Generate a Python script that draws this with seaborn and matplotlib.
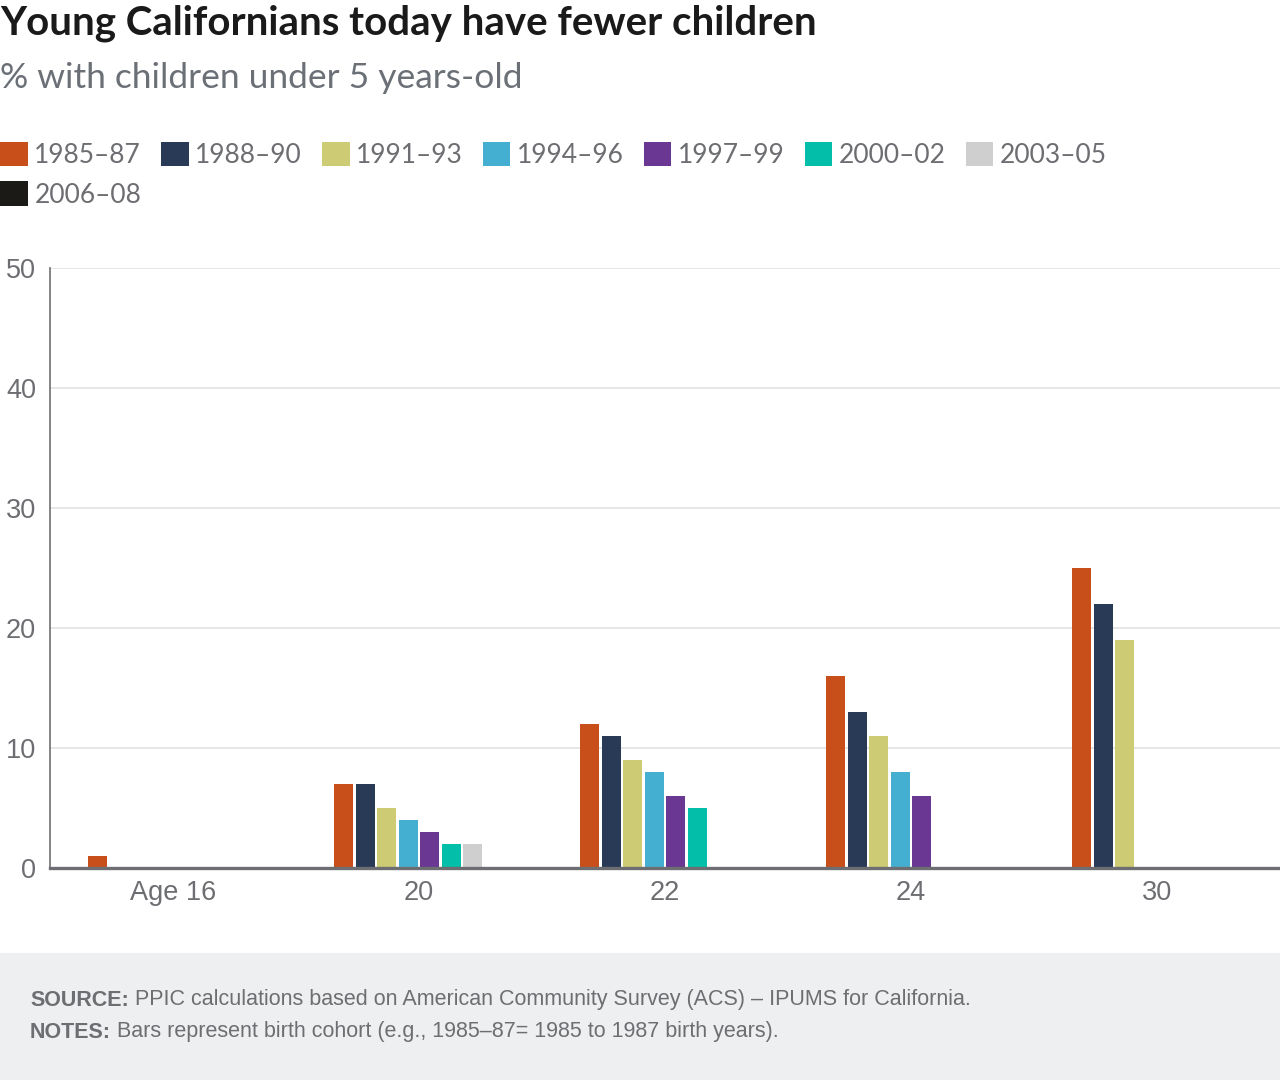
import matplotlib.pyplot as plt
import numpy as np
import pandas as pd
import seaborn as sns
from matplotlib.patches import Patch, Rectangle
from matplotlib.text import Annotation

ages = ["Age 16", "20", "22", "24", "30"]
cohorts = ["1985–87", "1988–90", "1991–93", "1994–96",
           "1997–99", "2000–02", "2003–05", "2006–08"]
nan = np.nan
pct_1985_87 = [1, 7, 12, 16, 25]
pct_1988_90 = [nan, 7, 11, 13, 22]
pct_1991_93 = [nan, 5, 9, 11, 19]
pct_1994_96 = [nan, 4, 8, 8, nan]
pct_1997_99 = [nan, 3, 6, 6, nan]
pct_2000_02 = [nan, 2, 5, nan, nan]
pct_2003_05 = [nan, 2, nan, nan, nan]
pct_2006_08 = [nan, nan, nan, nan, nan]
colors = ["#C94F1A", "#283A55", "#CDCB74", "#45AFD1",
          "#6A3792", "#03BFAA", "#CFCFCF", "#1C1A17"]

series = [pct_1985_87, pct_1988_90, pct_1991_93, pct_1994_96,
          pct_1997_99, pct_2000_02, pct_2003_05, pct_2006_08]
rows = []
for cohort, vals in zip(cohorts, series):
    for age, v in zip(ages, vals):
        rows.append({"age": age, "cohort": cohort, "pct": v})
df = pd.DataFrame(rows)

grey = "#6d6e71"
plt.rcParams["font.family"] = ["Liberation Sans", "DejaVu Sans"]

fig = plt.figure(figsize=(12.8, 10.8), dpi=100)
ax = fig.add_axes([50 / 1280, (1080 - 868) / 1080, 1230 / 1280, 600 / 1080])

sns.barplot(data=df, x="age", y="pct", hue="cohort", order=ages,
            hue_order=cohorts, palette=colors, saturation=1, width=0.7, gap=0.1,
            errorbar=None, legend=False, ax=ax, zorder=3)

ax.set_ylim(0, 50)
ax.set_xlim(-0.5, 4.5)
ax.set_yticks([0, 10, 20, 30, 40, 50])
ax.grid(axis="y", color="#e6e6e6", linewidth=1.4, zorder=0)
ax.set_axisbelow(True)
ax.set_xlabel("")
ax.set_ylabel("")
for s in ["top", "right"]:
    ax.spines[s].set_visible(False)
ax.spines["left"].set_color(grey)
ax.spines["left"].set_linewidth(1.2)
ax.spines["bottom"].set_color(grey)
ax.spines["bottom"].set_linewidth(2.4)
ax.spines["bottom"].set_zorder(4)
ax.tick_params(axis="both", length=0, labelsize=19.5, labelcolor=grey)
ax.tick_params(axis="y", pad=10)
ax.tick_params(axis="x", pad=9)

# title block
fig.text(0.0, 1 - 23 / 1080, "Young Californians today have fewer children",
         fontsize=29, fontweight="bold", color="#1a1a1a", family="Lato",
         va="center", ha="left")
fig.text(0.0, 1 - 78 / 1080, "% with children under 5 years-old",
         fontsize=25.5, color="#6b7077", family="Lato", va="center", ha="left")

# legend, reordered so the single second-row entry sits under the first
handles = [Patch(facecolor=c, edgecolor="none") for c in colors]
order = [0, 7, 1, 2, 3, 4, 5, 6]
leg = fig.legend([handles[i] for i in order], [cohorts[i] for i in order],
                 ncol=7, loc="upper left", bbox_to_anchor=(0.0, 1 - 142 / 1080),
                 frameon=False, borderpad=0, borderaxespad=0,
                 handlelength=1.05, handleheight=1.05, handletextpad=0.25,
                 columnspacing=0.75, labelspacing=0.5,
                 prop={"family": "Lato", "size": 19})
for t in leg.get_texts():
    t.set_color(grey)

# footer
fig.patches.append(Rectangle((0, 0), 1, 127 / 1080, transform=fig.transFigure,
                             facecolor="#eeeff1", edgecolor="none", zorder=0))
notes = [("SOURCE:", "PPIC calculations based on American Community Survey (ACS) – IPUMS for California.", 1000),
         ("NOTES:", "Bars represent birth cohort (e.g., 1985–87= 1985 to 1987 birth years).", 1032)]
for head, body, y in notes:
    t = fig.text(30 / 1280, 1 - y / 1080, head, fontsize=15.5, fontweight="bold",
                 color=grey, va="center", ha="left", zorder=5)
    fig.add_artist(Annotation(" " + body, xy=(1, 0.5), xycoords=t,
                              va="center", ha="left", fontsize=15.5,
                              color=grey, zorder=5))

fig.savefig("out.png", dpi=100)
